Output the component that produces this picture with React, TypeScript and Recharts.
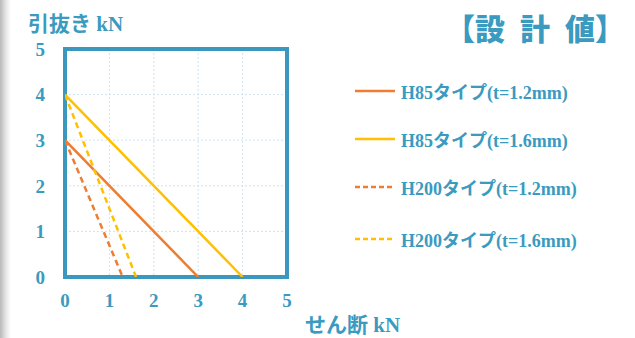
import React from "react";
import { LineChart, Line, XAxis, YAxis, CartesianGrid, ReferenceArea } from "recharts";

const xTicks = [0, 1, 2, 3, 4, 5];
const yTicks = [0, 1, 2, 3, 4, 5];

const seriesNames = [
  "H85タイプ(t=1.2mm)",
  "H85タイプ(t=1.6mm)",
  "H200タイプ(t=1.2mm)",
  "H200タイプ(t=1.6mm)",
];
const seriesColors = ["#ED7D31", "#FFC000", "#ED7D31", "#FFC000"];
const seriesDashed = [false, false, true, true];

const h85t12Shear = [0, 3];
const h85t12Pull = [3, 0];
const h85t16Shear = [0, 4];
const h85t16Pull = [4, 0];
const h200t12Shear = [0, 1.3];
const h200t12Pull = [3, 0];
const h200t16Shear = [0, 1.6];
const h200t16Pull = [4, 0];

const build = (xs: number[], ys: number[]) => xs.map((x, i) => ({ x, y: ys[i] }));
const seriesData = [
  build(h85t12Shear, h85t12Pull),
  build(h85t16Shear, h85t16Pull),
  build(h200t12Shear, h200t12Pull),
  build(h200t16Shear, h200t16Pull),
];

const BLUE = "#3A9AC0";
const FONT = "'Liberation Serif', 'Noto Sans CJK JP', serif";
const legendTops = [79, 127, 175, 227];

export default function App() {
  return (
    <div
      style={{
        position: "absolute",
        left: 0,
        top: 0,
        width: 635,
        height: 338,
        background: "linear-gradient(to right, #b8b8b8 0px, #e6e6e6 6px, #ffffff 11px)",
        overflow: "hidden",
      }}
    >
      <div
        style={{
          position: "absolute",
          left: 28,
          top: 7,
          color: BLUE,
          fontFamily: FONT,
          fontWeight: "bold",
          fontSize: 21,
          whiteSpace: "nowrap",
        }}
      >
        引抜き kN
      </div>
      <div
        style={{
          position: "absolute",
          left: 305,
          top: 308,
          color: BLUE,
          fontFamily: FONT,
          fontWeight: "bold",
          fontSize: 21,
          whiteSpace: "nowrap",
        }}
      >
        せん断 kN
      </div>
      <div
        style={{
          position: "absolute",
          left: 445,
          top: 7,
          color: BLUE,
          fontFamily: "'Noto Sans CJK JP', sans-serif",
          fontWeight: 900,
          fontSize: 30,
          whiteSpace: "pre",
          lineHeight: "40px",
          letterSpacing: 0,
        }}
      >
        {"【設\u2002計\u2002値】"}
      </div>
      <div style={{ position: "absolute", left: 0, top: 0 }}>
        <LineChart
          width={635}
          height={338}
          margin={{ top: 49, right: 348, bottom: 31, left: 35 }}
        >
          <CartesianGrid stroke="#cfe2f1" strokeDasharray="2 2" />
          <XAxis
            dataKey="x"
            type="number"
            domain={[0, 5]}
            ticks={xTicks}
            allowDataOverflow
            axisLine={false}
            tickLine={false}
            tickSize={0}
            tickMargin={17}
            height={30}
            tick={{ fill: BLUE, fontFamily: FONT, fontWeight: "bold", fontSize: 19 }}
          />
          <YAxis
            dataKey="y"
            type="number"
            domain={[0, 5]}
            ticks={yTicks}
            allowDataOverflow
            axisLine={false}
            tickLine={false}
            tickSize={0}
            tickMargin={20}
            width={30}
            tick={{ fill: BLUE, fontFamily: FONT, fontWeight: "bold", fontSize: 19 }}
          />
          <ReferenceArea
            x1={0}
            x2={5}
            y1={0}
            y2={5}
            fill="none"
            fillOpacity={0}
            stroke="#3A97BE"
            strokeWidth={4}
            ifOverflow="visible"
          />
          {seriesData.map((d, i) => (
            <Line
              key={seriesNames[i]}
              data={d}
              dataKey="y"
              name={seriesNames[i]}
              type="linear"
              stroke={seriesColors[i]}
              strokeWidth={2.5}
              strokeDasharray={seriesDashed[i] ? "6 4" : undefined}
              dot={false}
              activeDot={false}
              isAnimationActive={false}
            />
          ))}
        </LineChart>
      </div>
      {seriesNames.map((name, i) => (
        <div
          key={name}
          style={{
            position: "absolute",
            left: 355,
            top: legendTops[i],
            height: 24,
            display: "flex",
            alignItems: "center",
            whiteSpace: "nowrap",
          }}
        >
          <svg width={40} height={6} style={{ marginRight: 6 }}>
            <line
              x1={0}
              y1={3}
              x2={40}
              y2={3}
              stroke={seriesColors[i]}
              strokeWidth={2.5}
              strokeDasharray={seriesDashed[i] ? "5 3" : undefined}
            />
          </svg>
          <span style={{ color: BLUE, fontFamily: FONT, fontWeight: "bold", fontSize: 18 }}>{name}</span>
        </div>
      ))}
    </div>
  );
}
